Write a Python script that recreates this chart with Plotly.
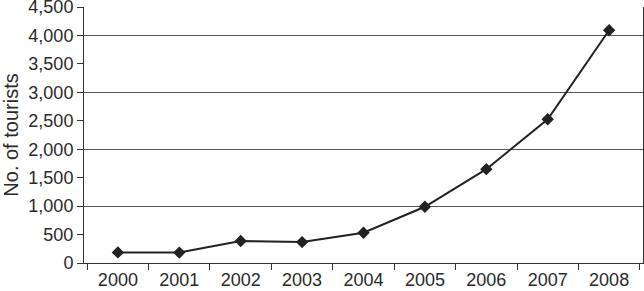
import plotly.graph_objects as go

years = ["2000", "2001", "2002", "2003", "2004", "2005", "2006", "2007", "2008"]
tourists = [186, 183, 386, 368, 531, 988, 1649, 2526, 4092]
y_ticks = [0, 500, 1000, 1500, 2000, 2500, 3000, 3500, 4000, 4500]
y_tick_labels = ["0", "500", "1,000", "1,500", "2,000", "2,500", "3,000", "3,500", "4,000", "4,500"]
grid_vals = [1000, 2000, 3000, 4000, 4500]

font = "Liberation Sans, Arial, sans-serif"
ink = "#2a2a2a"

fig = go.Figure()
# invisible trace to activate overlay axis for gridlines
fig.add_trace(go.Scatter(x=years, y=tourists, yaxis="y2", mode="lines",
                         line=dict(width=0), hoverinfo="skip", showlegend=False, opacity=0))
fig.add_trace(go.Scatter(
    x=years, y=tourists, mode="lines+markers", yaxis="y",
    line=dict(color="#222222", width=2),
    marker=dict(symbol="diamond", size=9.5, color="#222222"),
    showlegend=False,
))

fig.update_layout(
    width=644, height=291,
    margin=dict(l=84, r=1, t=7, b=28, autoexpand=False),
    paper_bgcolor="white", plot_bgcolor="white",
    font=dict(family=font, size=18, color=ink),
    xaxis=dict(
        type="category", showgrid=False, showline=True, linecolor="#333", linewidth=1,
        ticks="outside", tickson="boundaries", ticklen=6, tickcolor="#333",
        tickfont=dict(size=18, color=ink), mirror=False, automargin=False,
    ),
    yaxis=dict(
        range=[0, 4500], tickvals=y_ticks, ticktext=y_tick_labels,
        showgrid=False, showline=True, linecolor="#333", linewidth=1, mirror=True,
        ticks="outside", ticklen=6, tickcolor="#333", zeroline=False,
        tickfont=dict(size=18, color=ink), automargin=False, ticklabeloverflow="allow",
        title=dict(text="No. of tourists", font=dict(size=20, color=ink), standoff=10),
    ),
    yaxis2=dict(
        range=[0, 4500], overlaying="y", tickvals=grid_vals, showticklabels=False,
        showgrid=True, gridcolor="#555", gridwidth=1, zeroline=False, showline=False,
        ticks="", automargin=False,
    ),
)

fig.write_html("out.html", config={"displayModeBar": False},
               post_script="document.body.style.margin='0';document.body.style.overflow='hidden';")
